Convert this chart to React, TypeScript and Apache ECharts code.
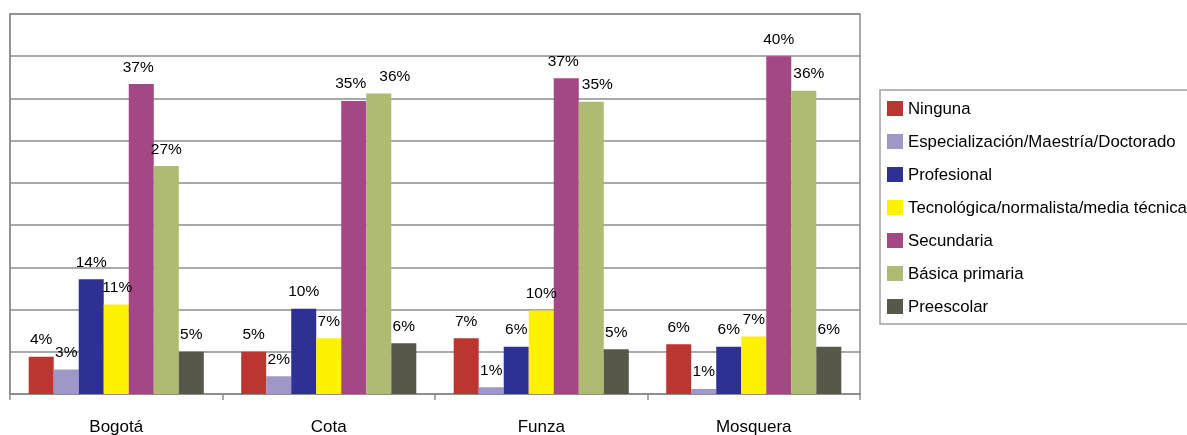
import React, { useEffect, useRef } from "react";
import * as echarts from "echarts";

// Municipalities on the category axis
const municipios = ["Bogotá", "Cota", "Funza", "Mosquera"];

// Education level shares (%) per municipality
const ninguna = [4.4, 5.0, 6.6, 5.9];
const especializacion = [2.9, 2.1, 0.8, 0.6];
const profesional = [13.6, 10.1, 5.6, 5.6];
const tecnologica = [10.6, 6.6, 9.9, 6.8];
const secundaria = [36.7, 34.7, 37.4, 40.0];
const basicaPrimaria = [27.0, 35.6, 34.6, 35.9];
const preescolar = [5.0, 6.0, 5.3, 5.6];

const seriesNames = [
  "Ninguna",
  "Especialización/Maestría/Doctorado",
  "Profesional",
  "Tecnológica/normalista/media técnica",
  "Secundaria",
  "Básica primaria",
  "Preescolar",
];
const seriesData = [
  ninguna,
  especializacion,
  profesional,
  tecnologica,
  secundaria,
  basicaPrimaria,
  preescolar,
];
const seriesColors = [
  "#BD3530",
  "#9E97C8",
  "#2E3192",
  "#FFF200",
  "#A44785",
  "#AFBB72",
  "#57584A",
];

// Horizontal nudges for value labels that would otherwise collide
// (series index -> per-category x offset in px)
const labelNudges: Record<number, number[]> = {
  3: [1, 0, 0, 0],
  4: [-3, -3, -3, 0],
  5: [0, 16, 6, 5],
};

const FONT = '"Liberation Sans", Arial, sans-serif';
const GRID_COLOR = "#8c8c8c";

export default function App() {
  const ref = useRef<HTMLDivElement>(null);

  useEffect(() => {
    if (!ref.current) return;
    const chart = echarts.init(ref.current, null, { renderer: "svg" });
    chart.setOption({
      animation: false,
      textStyle: { fontFamily: FONT, color: "#000" },
      grid: {
        left: 10,
        right: 327,
        top: 14,
        bottom: 38,
        show: true,
        borderColor: GRID_COLOR,
        borderWidth: 1.5,
      },
      legend: {
        orient: "vertical",
        left: 880,
        top: 90,
        padding: [10, 30, 9, 7],
        borderColor: "#a0a0a0",
        borderWidth: 1.5,
        itemWidth: 16,
        itemHeight: 15,
        itemGap: 16,
        icon: "rect",
        data: seriesNames,
        textStyle: {
          fontFamily: FONT,
          fontSize: 16.8,
          lineHeight: 15,
          color: "#000",
        },
      },
      xAxis: {
        type: "category",
        data: municipios,
        axisLine: { lineStyle: { color: GRID_COLOR, width: 1.5 } },
        axisTick: {
          show: true,
          length: 6,
          lineStyle: { color: GRID_COLOR, width: 1.5 },
        },
        axisLabel: {
          fontFamily: FONT,
          fontSize: 17,
          color: "#000",
          margin: 24,
        },
      },
      yAxis: {
        type: "value",
        min: 0,
        max: 45,
        interval: 5,
        axisLabel: { show: false },
        axisTick: { show: false },
        axisLine: { show: true, lineStyle: { color: GRID_COLOR, width: 1.5 } },
        splitLine: { lineStyle: { color: GRID_COLOR, width: 1.5 } },
      },
      series: seriesNames.map((name, i) => ({
        name,
        type: "bar",
        data: seriesData[i].map((v, j) => {
          const dx = labelNudges[i] ? labelNudges[i][j] : 0;
          return dx ? { value: v, label: { offset: [dx, 0] } } : v;
        }),
        barGap: "0%",
        barCategoryGap: "17.6%",
        itemStyle: { color: seriesColors[i] },
        label: {
          show: true,
          position: "top",
          distance: 10,
          fontFamily: FONT,
          fontSize: 15.5,
          color: "#000",
          formatter: (p: any) => Math.round(p.value) + "%",
        },
      })),
    });
    return () => chart.dispose();
  }, []);

  return (
    <div
      ref={ref}
      style={{ position: "fixed", left: 0, top: 0, width: 1187, height: 435 }}
    />
  );
}
